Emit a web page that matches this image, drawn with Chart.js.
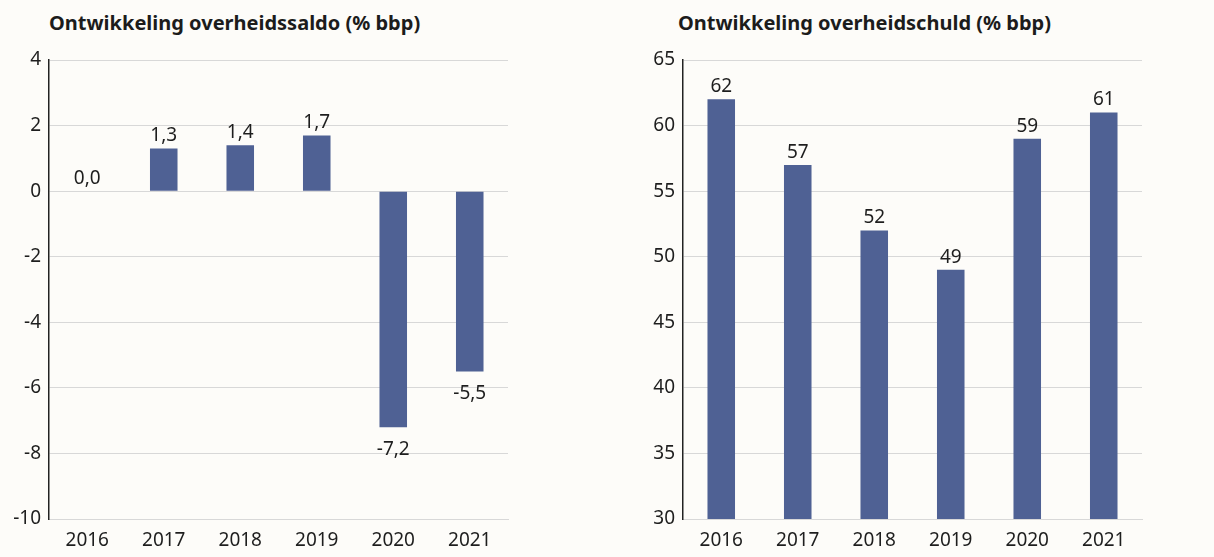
<!DOCTYPE html>
<html>
<head>
<meta charset="utf-8">
<script src="https://cdn.jsdelivr.net/npm/chart.js@4"></script>
<style>
  body { margin: 0; background: #fdfcf9; width: 1214px; height: 557px; overflow: hidden; position: relative; font-family: "Noto Sans", sans-serif; }
  .title { position: absolute; top: 9px; font-weight: bold; font-size: 20px; color: #1c1c1c; white-space: nowrap; }
  .box { position: absolute; top: 40px; height: 517px; }
</style>
</head>
<body>
<div class="title" style="left:49px">Ontwikkeling overheidssaldo (% bbp)</div>
<div class="title" style="left:678px">Ontwikkeling overheidschuld (% bbp)</div>
<div class="box" style="left:0;width:540px"><canvas id="saldoChart"></canvas></div>
<div class="box" style="left:620px;width:560px"><canvas id="schuldChart"></canvas></div>
<script>
const years = ["2016", "2017", "2018", "2019", "2020", "2021"];
const saldo = [0.0, 1.3, 1.4, 1.7, -7.2, -5.5];
const schuld = [62, 57, 52, 49, 59, 61];
const saldoTicks = [-10, 4, 2];   // min, max, step
const schuldTicks = [30, 65, 5];

const barColor = "#4f6194";
const gridColor = "#d8d8d8";
const textColor = "#1e1e1e";

// own value labels, comma decimal like the original
const valueLabels = {
  id: "valueLabels",
  afterDatasetsDraw(chart, args, opts) {
    const ctx = chart.ctx;
    const meta = chart.getDatasetMeta(0);
    const vals = chart.data.datasets[0].data;
    ctx.save();
    ctx.font = "19px 'Noto Sans'";
    ctx.fillStyle = textColor;
    ctx.textAlign = "center";
    meta.data.forEach((bar, i) => {
      let v = vals[i];
      let txt = opts.decimals ? v.toFixed(1).replace(".", ",") : String(v);
      if (v < 0) {
        ctx.textBaseline = "top";
        ctx.fillText(txt, bar.x, bar.y + 13);
      } else {
        ctx.textBaseline = "bottom";
        ctx.fillText(txt, bar.x, bar.y - 3);
      }
    });
    ctx.restore();
  },
};

function makeChart(id, data, ticks, decimals, yWidth, padRight) {
  return new Chart(document.getElementById(id), {
    type: "bar",
    data: {
      labels: years,
      datasets: [{
        data: data,
        backgroundColor: barColor,
        categoryPercentage: 1,
        barPercentage: 0.36,
      }],
    },
    options: {
      responsive: true,
      maintainAspectRatio: false,
      animation: false,
      layout: { padding: { left: 0, right: padRight, top: 20, bottom: 0 } },
      plugins: {
        legend: { display: false },
        tooltip: { enabled: false },
        valueLabels: { decimals: decimals },
      },
      scales: {
        x: {
          grid: { display: false },
          border: { color: gridColor, width: 1 },
          ticks: { color: textColor, font: { size: 19, family: "Noto Sans" }, padding: 2 },
          afterFit: (s) => { s.height = 38; },
        },
        y: {
          min: ticks[0],
          max: ticks[1],
          ticks: {
            stepSize: ticks[2],
            color: textColor,
            font: { size: 19, family: "Noto Sans" },
            padding: 8,
          },
          grid: { color: gridColor, drawTicks: false, lineWidth: 1 },
          border: { color: "#222", width: 1.5 },
          afterFit: (s) => { s.width = yWidth; },
        },
      },
    },
    plugins: [valueLabels],
  });
}

makeChart("saldoChart", saldo, saldoTicks, true, 49, 32);
makeChart("schuldChart", schuld, schuldTicks, false, 63, 38);
</script>
</body>
</html>
